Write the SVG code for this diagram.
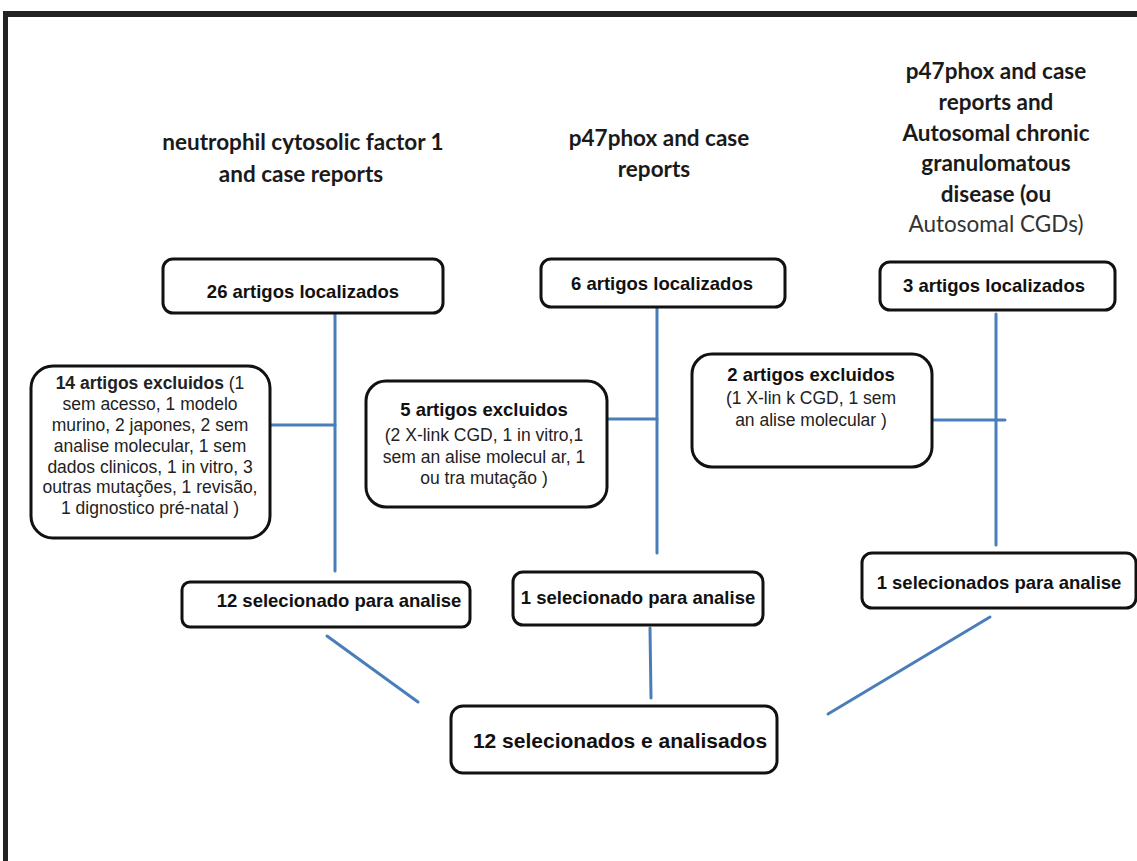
<svg xmlns="http://www.w3.org/2000/svg" width="1137" height="861" viewBox="0 0 1137 861">
  <style>
    .box { fill: #ffffff; stroke: #111111; stroke-width: 3; }
    .title { font-family: Lato, "Open Sans", sans-serif; font-weight: 700; font-size: 22.5px; fill: #1a1a1a; text-anchor: middle; }
    .title-light { font-family: Lato, "Open Sans", sans-serif; font-weight: 400; font-size: 22.5px; fill: #333333; text-anchor: middle; }
    .lbl { font-family: "Liberation Sans", Arial, sans-serif; font-weight: 700; font-size: 18.5px; fill: #111111; text-anchor: middle; }
    .body { font-family: "Liberation Sans", Arial, sans-serif; font-weight: 400; font-size: 17.5px; fill: #222222; text-anchor: middle; }
    .big { font-family: "Liberation Sans", Arial, sans-serif; font-weight: 700; font-size: 21px; fill: #111111; text-anchor: middle; }
    .conn { stroke: #4a7ebb; stroke-width: 3; fill: none; stroke-linecap: round; }
    .frame { fill: #222222; }
  </style>

  <rect width="1137" height="861" fill="#ffffff"/>

  <!-- page frame -->
  <rect class="frame" x="3" y="11" width="1134" height="6"/>
  <rect class="frame" x="3" y="11" width="5" height="850"/>

  <!-- column headings -->
  <g id="heading-1">
    <text class="title" x="303" y="150">neutrophil cytosolic factor 1</text>
    <text class="title" x="301" y="182">and case reports</text>
  </g>
  <g id="heading-2">
    <text class="title" x="659" y="146">p47phox and case</text>
    <text class="title" x="654" y="177">reports</text>
  </g>
  <g id="heading-3">
    <text class="title" x="996" y="79">p47phox and case</text>
    <text class="title" x="996" y="110">reports and</text>
    <text class="title" x="996" y="141">Autosomal chronic</text>
    <text class="title" x="996" y="171">granulomatous</text>
    <text class="title" x="996" y="202">disease (ou</text>
    <text class="title-light" x="996" y="232">Autosomal CGDs)</text>
  </g>

  <!-- connectors -->
  <g id="connectors">
    <line class="conn" x1="335" y1="313" x2="335" y2="571"/>
    <line class="conn" x1="270" y1="425" x2="335" y2="425"/>
    <line class="conn" x1="657" y1="308" x2="657" y2="553"/>
    <line class="conn" x1="607" y1="419" x2="657" y2="419"/>
    <line class="conn" x1="996" y1="314" x2="996" y2="545"/>
    <line class="conn" x1="932" y1="420" x2="1005" y2="420"/>
    <line class="conn" x1="327" y1="636" x2="418" y2="702"/>
    <line class="conn" x1="650" y1="628" x2="651" y2="698"/>
    <line class="conn" x1="990" y1="617" x2="828" y2="714"/>
  </g>

  <!-- located articles -->
  <g id="found-1">
    <rect class="box" x="163" y="259" width="280" height="54" rx="10"/>
    <text class="lbl" x="303" y="298">26 artigos localizados</text>
  </g>
  <g id="found-2">
    <rect class="box" x="541" y="259" width="244" height="48" rx="10"/>
    <text class="lbl" x="662" y="290">6 artigos localizados</text>
  </g>
  <g id="found-3">
    <rect class="box" x="880" y="262" width="235" height="48" rx="10"/>
    <text class="lbl" x="994" y="292">3 artigos localizados</text>
  </g>

  <!-- excluded articles -->
  <g id="excluded-1">
    <rect class="box" x="31" y="366" width="239" height="172" rx="22"/>
    <text x="150" y="389" class="body" font-size="17"><tspan font-weight="700">14 artigos excluidos</tspan> (1</text>
    <text class="body" x="150" y="410">sem acesso, 1 modelo</text>
    <text class="body" x="150" y="431">murino, 2 japones, 2 sem</text>
    <text class="body" x="150" y="452">analise molecular, 1 sem</text>
    <text class="body" x="150" y="473">dados clinicos, 1 in vitro,  3</text>
    <text class="body" x="150" y="493">outras mutações, 1 revisão,</text>
    <text class="body" x="150" y="514">1 dignostico pré-natal )</text>
  </g>
  <g id="excluded-2">
    <rect class="box" x="366" y="381" width="241" height="126" rx="20"/>
    <text class="lbl" x="484" y="416">5 artigos excluidos</text>
    <text class="body" x="484" y="441" font-size="18">(2 X-link CGD, 1 in vitro,1</text>
    <text class="body" x="484" y="463" font-size="18">sem an alise molecul ar, 1</text>
    <text class="body" x="484" y="484" font-size="18">ou tra mutação  )</text>
  </g>
  <g id="excluded-3">
    <rect class="box" x="692" y="354" width="240" height="113" rx="20"/>
    <text class="lbl" x="811" y="381">2 artigos excluidos</text>
    <text class="body" x="811" y="404" font-size="18">(1 X-lin k CGD, 1 sem</text>
    <text class="body" x="811" y="426" font-size="18">an alise molecular  )</text>
  </g>

  <!-- selected per search -->
  <g id="selected-1">
    <rect class="box" x="182" y="582" width="288" height="45" rx="8"/>
    <text class="lbl" x="339" y="607">12 selecionado para analise</text>
  </g>
  <g id="selected-2">
    <rect class="box" x="513" y="572" width="250" height="53" rx="10"/>
    <text class="lbl" x="638" y="604">1 selecionado para analise</text>
  </g>
  <g id="selected-3">
    <rect class="box" x="862" y="553" width="274" height="55" rx="10"/>
    <text class="lbl" x="999" y="589">1 selecionados para analise</text>
  </g>

  <!-- final result -->
  <g id="final">
    <rect class="box" x="451" y="706" width="326" height="67" rx="12"/>
    <text class="big" x="620" y="748">12 selecionados e analisados</text>
  </g>
</svg>
